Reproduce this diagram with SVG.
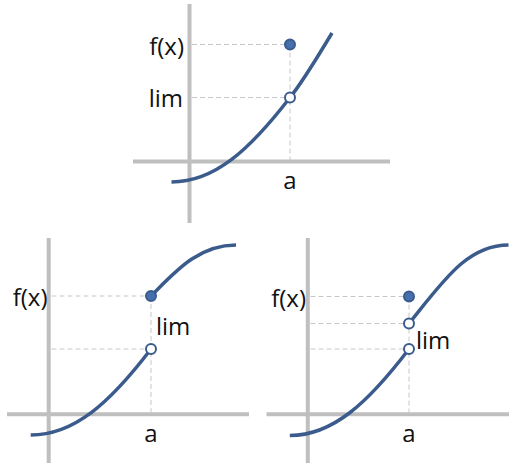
<svg xmlns="http://www.w3.org/2000/svg" width="509" height="463" viewBox="0 0 509 463">
<style>
.axis{stroke:#bfbfbf;stroke-width:4;fill:none}
.guide{stroke:#c8c8c8;stroke-width:1;stroke-dasharray:5 3;fill:none}
.curve{stroke:#3a5b8c;stroke-width:3.5;fill:none;stroke-linecap:butt}
.full{fill:#4670ad;stroke:#3a5b8c;stroke-width:2}
.open{fill:#ffffff;stroke:#3a5b8c;stroke-width:2}
text{font-family:"Open Sans","Noto Sans",sans-serif;font-size:24px;fill:#111111}
</style>
<rect width="509" height="463" fill="#ffffff"/>
<g id="panel-top">
  <g id="top-axes">
    <line class="axis" x1="189.5" y1="4" x2="189.5" y2="223"/>
    <line class="axis" x1="133" y1="161.5" x2="390" y2="161.5"/>
  </g>
  <g id="top-guides">
    <line class="guide" x1="192" y1="44.5" x2="290" y2="44.5"/>
    <line class="guide" x1="192" y1="97.5" x2="290" y2="97.5"/>
    <line class="guide" x1="290" y1="44.5" x2="290" y2="160"/>
  </g>
  <path id="top-curve" class="curve" d="M171.5 182 C214.5 182 249.5 150 290 97.5 C304 80 318 56 332 33"/>
  <circle id="top-fx" class="full" cx="290" cy="44.5" r="5"/>
  <circle id="top-lim" class="open" cx="290" cy="97.5" r="5"/>
  <text x="184" y="54.5" text-anchor="end">f(x)</text>
  <text x="183" y="107" text-anchor="end">lim</text>
  <text x="290" y="189" text-anchor="middle">a</text>
</g>
<g id="panel-left">
  <g id="left-axes">
    <line class="axis" x1="48.7" y1="238" x2="48.7" y2="463"/>
    <line class="axis" x1="7" y1="414.3" x2="249" y2="414.3"/>
  </g>
  <g id="left-guides">
    <line class="guide" x1="51.5" y1="296" x2="151" y2="296"/>
    <line class="guide" x1="51.5" y1="349" x2="151" y2="349"/>
    <line class="guide" x1="151" y1="296" x2="151" y2="412.5"/>
  </g>
  <path id="left-curve-low" class="curve" d="M30.7 435 C73.7 435 109 404 151 349"/>
  <path id="left-curve-high" class="curve" d="M151 296 C175 272 198 245 236 245"/>
  <circle id="left-fx" class="full" cx="151" cy="296" r="5"/>
  <circle id="left-lim" class="open" cx="151" cy="349" r="5"/>
  <text x="47.5" y="306" text-anchor="end">f(x)</text>
  <text x="156" y="335">lim</text>
  <text x="151" y="442" text-anchor="middle">a</text>
</g>
<g id="panel-right">
  <g id="right-axes">
    <line class="axis" x1="307.8" y1="238" x2="307.8" y2="463"/>
    <line class="axis" x1="266.5" y1="414.3" x2="509" y2="414.3"/>
  </g>
  <g id="right-guides">
    <line class="guide" x1="310.5" y1="296.5" x2="409" y2="296.5"/>
    <line class="guide" x1="310.5" y1="323.5" x2="409" y2="323.5"/>
    <line class="guide" x1="310.5" y1="349" x2="409" y2="349"/>
    <line class="guide" x1="409" y1="296.5" x2="409" y2="412.5"/>
  </g>
  <path id="right-curve-low" class="curve" d="M289.8 435.5 C332.8 435.5 367.8 403 409 349"/>
  <path id="right-curve-high" class="curve" d="M409 323.5 C443 281.5 467 245 508.5 245"/>
  <circle id="right-fx" class="full" cx="409" cy="296.5" r="5"/>
  <circle id="right-mid" class="open" cx="409" cy="323.5" r="5"/>
  <circle id="right-lim" class="open" cx="409" cy="349" r="5"/>
  <text x="306" y="307" text-anchor="end">f(x)</text>
  <text x="416" y="348.5">lim</text>
  <text x="409" y="442" text-anchor="middle">a</text>
</g>
</svg>
